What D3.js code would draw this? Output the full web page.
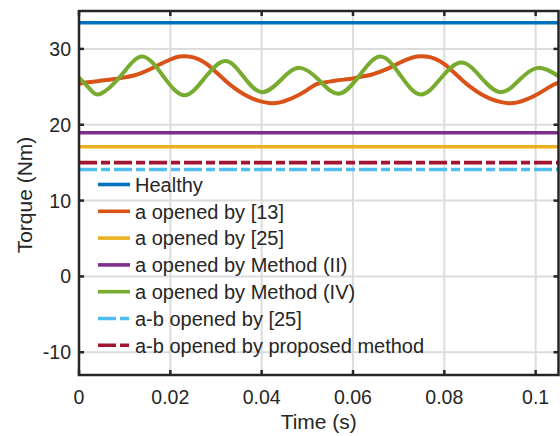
<!DOCTYPE html>
<html>
<head>
<meta charset="utf-8">
<script src="https://cdn.jsdelivr.net/npm/d3@7"></script>
<style>
  html, body { margin: 0; padding: 0; background: #fff; }
  svg { display: block; font-family: "Liberation Sans", Arial, sans-serif; }
</style>
</head>
<body>
<svg id="chart" width="560" height="436"></svg>
<script>
// ---- data ----
const xTicks = [0, 0.02, 0.04, 0.06, 0.08, 0.1];
const xTickLabels = ["0", "0.02", "0.04", "0.06", "0.08", "0.1"];
const yTicks = [-10, 0, 10, 20, 30];
const yTickLabels = ["-10", "0", "10", "20", "30"];

const seriesNames = [
  "Healthy",
  "a opened by [13]",
  "a opened by [25]",
  "a opened by Method (II)",
  "a opened by Method (IV)",
  "a-b opened by [25]",
  "a-b opened by proposed method"
];
const seriesColors = ["#0072BD", "#D95319", "#EDB120", "#7E2F8E", "#77AC30", "#4DBEEE", "#A2142F"];

// constant-torque series
const healthyTorque = 33.45;
const aOpened25Torque = 17.1;
const methodIITorque = 18.95;
const ab25Torque = 14.1;
const abProposedTorque = 15.0;

// "a opened by [13]" (orange)
const orangeTime = [0, 0.002, 0.004, 0.006, 0.008, 0.010, 0.012, 0.014, 0.016, 0.018, 0.020, 0.022, 0.024, 0.026, 0.028, 0.030, 0.032, 0.034, 0.036, 0.038, 0.040, 0.042, 0.044, 0.046, 0.048, 0.050, 0.052, 0.054, 0.056, 0.058, 0.060, 0.062, 0.064, 0.066, 0.068, 0.070, 0.072, 0.074, 0.076, 0.078, 0.080, 0.082, 0.084, 0.086, 0.088, 0.090, 0.092, 0.094, 0.096, 0.098, 0.100, 0.102, 0.104, 0.105];
const orangeTorque = [25.4, 25.6, 25.75, 25.9, 26.05, 26.25, 26.5, 26.9, 27.45, 28.05, 28.6, 29.0, 29.0, 28.7, 28.0, 26.95, 25.85, 24.85, 24.05, 23.45, 23.05, 22.85, 22.95, 23.35, 23.9, 24.6, 25.35, 25.6, 25.8, 25.95, 26.1, 26.35, 26.6, 27.0, 27.5, 28.1, 28.65, 29.0, 29.0, 28.7, 28.0, 26.95, 25.85, 24.85, 24.05, 23.45, 23.05, 22.85, 22.95, 23.35, 23.9, 24.6, 25.3, 25.5];

// "a opened by Method (IV)" (green)
const greenTime = [0, 0.0024, 0.0048, 0.0093, 0.0138, 0.0184, 0.023, 0.0275, 0.032, 0.036, 0.040, 0.0442, 0.0483, 0.0527, 0.057, 0.0615, 0.066, 0.0704, 0.0748, 0.0792, 0.0837, 0.088, 0.0923, 0.0964, 0.1005, 0.105];
const greenTorque = [26.2, 24.7, 24.1, 26.55, 29.0, 26.45, 23.9, 26.15, 28.4, 26.35, 24.3, 25.9, 27.5, 25.8, 24.1, 26.55, 29.0, 26.5, 24.0, 26.1, 28.2, 26.25, 24.3, 25.9, 27.5, 26.4];

// ---- layout ----
const svg = d3.select("#chart");
const L = 79, R = 558.5, T = 11, B = 375;
const x = d3.scaleLinear().domain([0, 0.105]).range([L, R]);
const y = d3.scaleLinear().domain([-13, 35]).range([B, T]);
const axisColor = "#262626";
const textColor = "#262626";

// grid
const grid = svg.append("g");
grid.selectAll("line.vg").data(xTicks.filter(d => d > 0)).enter().append("line")
  .attr("x1", d => x(d)).attr("x2", d => x(d)).attr("y1", T).attr("y2", B)
  .attr("stroke", "#dcdcdc").attr("stroke-width", 2);
grid.selectAll("line.hg").data(yTicks).enter().append("line")
  .attr("x1", L).attr("x2", R).attr("y1", d => y(d)).attr("y2", d => y(d))
  .attr("stroke", "#dcdcdc").attr("stroke-width", 2);

// clip
svg.append("defs").append("clipPath").attr("id", "clip")
  .append("rect").attr("x", L).attr("y", T).attr("width", R - L).attr("height", B - T);
const plot = svg.append("g").attr("clip-path", "url(#clip)");

const line = d3.line().x(d => x(d[0])).y(d => y(d[1])).curve(d3.curveMonotoneX);
const smoothLine = d3.line().x(d => x(d[0])).y(d => y(d[1])).curve(d3.curveNatural);
const dashPat = "18,4,9,4";
const lw = 3.6;

function hLine(val, color, dash) {
  const p = plot.append("path")
    .datum([[0, val], [0.105, val]])
    .attr("d", line).attr("fill", "none")
    .attr("stroke", color).attr("stroke-width", lw);
  if (dash) p.attr("stroke-dasharray", dash);
}

hLine(healthyTorque, seriesColors[0]);
plot.append("path").datum(orangeTime.map((t, i) => [t, orangeTorque[i]]))
  .attr("d", smoothLine).attr("fill", "none").attr("stroke", seriesColors[1]).attr("stroke-width", 4);
hLine(aOpened25Torque, seriesColors[2]);
hLine(methodIITorque, seriesColors[3]);
plot.append("path").datum(greenTime.map((t, i) => [t, greenTorque[i]]))
  .attr("d", smoothLine).attr("fill", "none").attr("stroke", seriesColors[4]).attr("stroke-width", 4);
hLine(ab25Torque, seriesColors[5], dashPat);
hLine(abProposedTorque, seriesColors[6], dashPat);

// frame
svg.append("rect").attr("x", L).attr("y", T).attr("width", R - L).attr("height", B - T)
  .attr("fill", "none").attr("stroke", axisColor).attr("stroke-width", 2.5);

// ticks (inward, all four sides)
const tl = 5;
const ticks = svg.append("g").attr("stroke", axisColor).attr("stroke-width", 2.5);
xTicks.forEach(v => {
  ticks.append("line").attr("x1", x(v)).attr("x2", x(v)).attr("y1", B).attr("y2", B - tl);
  ticks.append("line").attr("x1", x(v)).attr("x2", x(v)).attr("y1", T).attr("y2", T + tl);
});
yTicks.forEach(v => {
  ticks.append("line").attr("x1", L).attr("x2", L + tl).attr("y1", y(v)).attr("y2", y(v));
  ticks.append("line").attr("x1", R).attr("x2", R - tl).attr("y1", y(v)).attr("y2", y(v));
});

// tick labels
svg.append("g").selectAll("text").data(xTicks).enter().append("text")
  .attr("x", d => x(d)).attr("y", 404)
  .attr("text-anchor", "middle").attr("font-size", 19.5).attr("fill", textColor)
  .text((d, i) => xTickLabels[i]);
svg.append("g").selectAll("text").data(yTicks).enter().append("text")
  .attr("x", 71).attr("y", d => y(d)).attr("dy", "0.36em")
  .attr("text-anchor", "end").attr("font-size", 19.5).attr("fill", textColor)
  .text((d, i) => yTickLabels[i]);

// axis labels
svg.append("text").attr("x", (L + R) / 2).attr("y", 429)
  .attr("text-anchor", "middle").attr("font-size", 21).attr("fill", textColor)
  .text("Time (s)");
svg.append("text").attr("transform", `translate(32,${(T + B) / 2 + 2}) rotate(-90)`)
  .attr("text-anchor", "middle").attr("font-size", 21).attr("fill", textColor)
  .text("Torque (Nm)");

// legend (no box)
const legDash = [null, null, null, null, null, dashPat, dashPat];
const leg = svg.append("g");
seriesNames.forEach((name, i) => {
  const cy = 184.5 + i * 26.8;
  const l = leg.append("line").attr("x1", 98).attr("x2", 130).attr("y1", cy).attr("y2", cy)
    .attr("stroke", seriesColors[i]).attr("stroke-width", lw);
  if (legDash[i]) l.attr("stroke-dasharray", legDash[i]);
  leg.append("text").attr("x", 135).attr("y", cy).attr("dy", "0.36em")
    .attr("font-size", 20).attr("fill", textColor).text(name);
});
</script>
</body>
</html>
